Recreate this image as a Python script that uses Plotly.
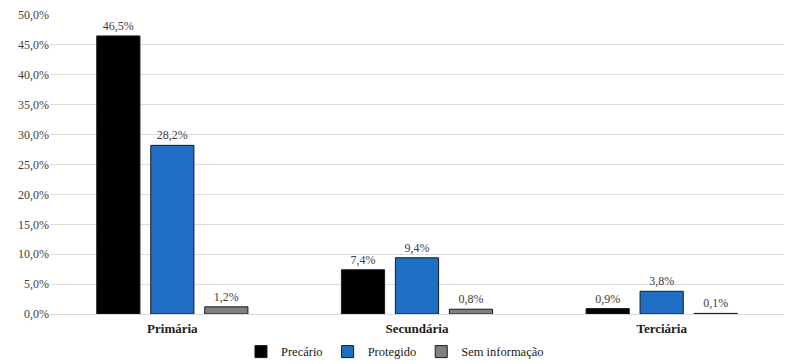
import plotly.graph_objects as go

categories = ["Primária", "Secundária", "Terciária"]
precario = [46.5, 7.4, 0.9]
protegido = [28.2, 9.4, 3.8]
sem_info = [1.2, 0.8, 0.1]

series = [
    ("Precário", precario, "#000000"),
    ("Protegido", protegido, "#1f6fc5"),
    ("Sem informação", sem_info, "#808080"),
]

font_family = "Liberation Serif"
fig = go.Figure()
for name, vals, color in series:
    fig.add_trace(go.Bar(
        x=categories, y=vals, name=name,
        marker=dict(color=color, line=dict(color="#1a1a1a", width=1)),
        texttemplate="%{y:.1f}%", textposition="outside",
        textangle=0, constraintext="none",
        textfont=dict(family=font_family, size=12, color="#404040"),
        cliponaxis=False,
    ))

fig.update_layout(
    width=799, height=364,
    margin=dict(l=50, r=15, t=15, b=50, autoexpand=False),
    paper_bgcolor="white", plot_bgcolor="white",
    separators=",.",
    barmode="group", bargap=0.338, bargroupgap=0.2,
    font=dict(family=font_family, size=12, color="#404040"),
    showlegend=True,
    legend=dict(orientation="h", xref="paper", x=0.47, xanchor="center",
                yref="paper", y=-0.127, yanchor="middle",
                font=dict(family=font_family, size=12.5, color="#202020"),
                itemwidth=30, traceorder="normal"),
    xaxis=dict(showgrid=False, showline=False, ticks="", ticklabelstandoff=5,
               tickfont=dict(family=font_family, size=13, color="#202020", weight="bold")),
    yaxis=dict(range=[0, 50], dtick=5, tickformat=".1f", ticksuffix="%",
               showgrid=True, gridcolor="#dddddd", gridwidth=1,
               zeroline=True, zerolinecolor="#d9d9d9", zerolinewidth=1,
               showline=False, ticks="",
               tickfont=dict(family=font_family, size=12, color="#404040")),
)

fig.write_html("out.html", config={"displayModeBar": False},
               post_script="document.body.style.margin='0';document.body.style.overflow='hidden';")
